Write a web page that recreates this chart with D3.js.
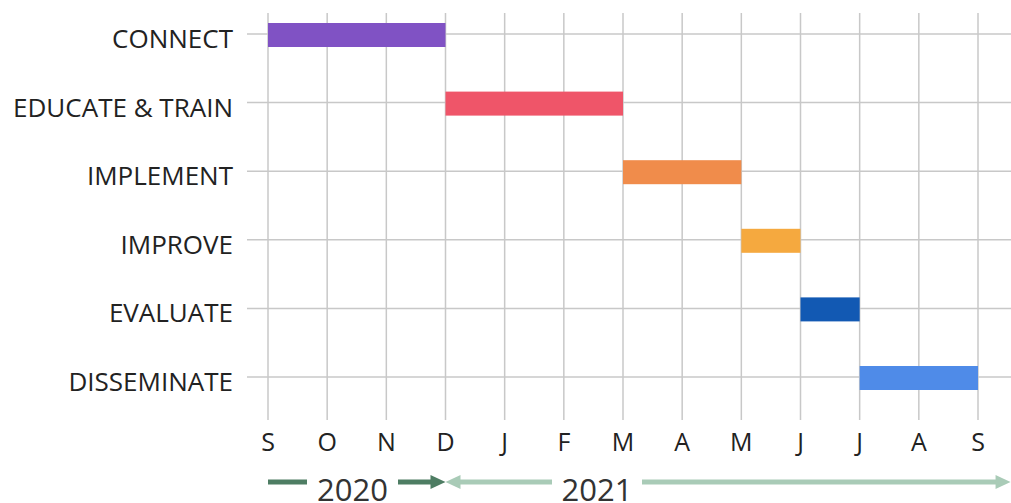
<!DOCTYPE html>
<html>
<head>
<meta charset="utf-8">
<script src="https://cdn.jsdelivr.net/npm/d3@7"></script>
<style>
  body { margin: 0; background: #fff; }
  text { font-family: "Open Sans", "Noto Sans", sans-serif; fill: #222; }
</style>
</head>
<body>
<script>
// phases, start/end as month index (0 = Sep 2020)
var phases = ["CONNECT", "EDUCATE & TRAIN", "IMPLEMENT", "IMPROVE", "EVALUATE", "DISSEMINATE"];
var starts = [0, 3, 6, 8, 9, 10];
var ends = [3, 6, 8, 9, 10, 12];
var colors = ["#8052c4", "#ef5569", "#f08c4b", "#f5a93f", "#1259b3", "#4f8be8"];

var monthLabels = ["S", "O", "N", "D", "J", "F", "M", "A", "M", "J", "J", "A", "S"];

var years = ["2020", "2021"];
var yearStart = [0, 3];
var yearEnd = [3, 12.55];
var yearColors = ["#4e7d63", "#a9cbb7"];

var width = 1011, height = 503;

var svg = d3.select("body").append("svg")
  .attr("width", width)
  .attr("height", height);

var x = d3.scaleLinear()
  .domain([0, 12])
  .range([268, 978]);

var y = d3.scalePoint()
  .domain(phases)
  .range([34, 377]);

// vertical grid
svg.append("g")
  .selectAll("line")
  .data(d3.range(monthLabels.length))
  .enter().append("line")
  .attr("x1", function(d) { return x(d); })
  .attr("x2", function(d) { return x(d); })
  .attr("y1", 13)
  .attr("y2", 420)
  .attr("stroke", "#c8c8c8")
  .attr("stroke-width", 1.5);

// horizontal grid
svg.append("g")
  .selectAll("line")
  .data(phases)
  .enter().append("line")
  .attr("x1", 247)
  .attr("x2", width)
  .attr("y1", function(d) { return y(d); })
  .attr("y2", function(d) { return y(d); })
  .attr("stroke", "#c8c8c8")
  .attr("stroke-width", 1.5);

// bars
var barH = 24;
svg.append("g")
  .selectAll("rect")
  .data(phases)
  .enter().append("rect")
  .attr("x", function(d, i) { return x(starts[i]); })
  .attr("width", function(d, i) { return x(ends[i]) - x(starts[i]); })
  .attr("y", function(d) { return y(d) - barH / 2 + 1; })
  .attr("height", barH)
  .attr("fill", function(d, i) { return colors[i]; });

// category labels
svg.append("g")
  .selectAll("text")
  .data(phases)
  .enter().append("text")
  .attr("x", 233)
  .attr("y", function(d) { return y(d) + 14; })
  .attr("text-anchor", "end")
  .style("font-size", "26px")
  .text(function(d) { return d; });

// month labels
svg.append("g")
  .selectAll("text")
  .data(monthLabels)
  .enter().append("text")
  .attr("x", function(d, i) { return x(i); })
  .attr("y", 451)
  .attr("text-anchor", "middle")
  .style("font-size", "25px")
  .text(function(d) { return d; });

// year arrows
var arrowY = 482;
var gap = [[307, 398], [552, 642]];
var yg = svg.append("g");

function head(xTip, dir, c) {
  yg.append("path")
    .attr("d", "M" + (xTip - dir * 15) + "," + (arrowY - 7) + "L" + xTip + "," + arrowY + "L" + (xTip - dir * 15) + "," + (arrowY + 7) + "Z")
    .attr("fill", c);
}
function seg(a, b, c) {
  yg.append("line").attr("x1", a).attr("x2", b).attr("y1", arrowY).attr("y2", arrowY)
    .attr("stroke", c).attr("stroke-width", 5);
}

years.forEach(function(yr, i) {
  var x0 = x(yearStart[i]), x1 = x(yearEnd[i]);
  var cx = (gap[i][0] + gap[i][1]) / 2;
  var c = yearColors[i];
  if (i === 0) {
    seg(x0, gap[i][0], c);
  } else {
    seg(x0 + 14, gap[i][0], c);
    head(x0, -1, c);
  }
  seg(gap[i][1], x1 - 14, c);
  head(x1, 1, c);
  yg.append("text")
    .attr("x", cx)
    .attr("y", 501)
    .attr("text-anchor", "middle")
    .style("font-size", "31px")
    .style("fill", "#333")
    .text(yr);
});
</script>
</body>
</html>
